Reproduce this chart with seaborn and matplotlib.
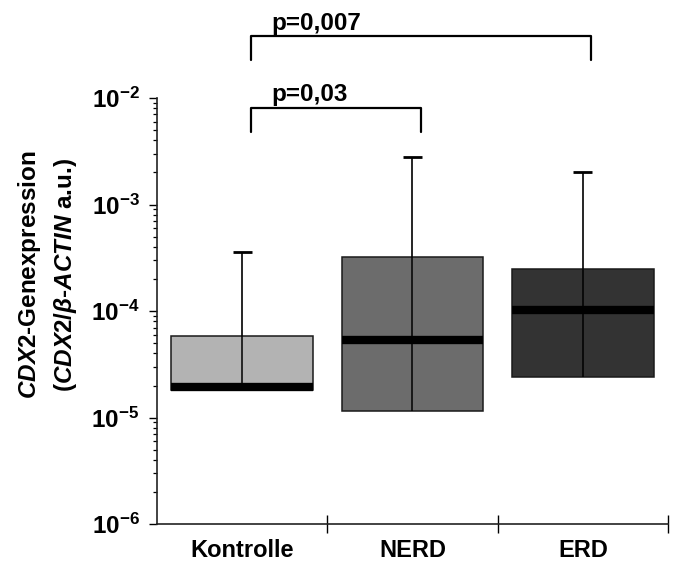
import numpy as np
import pandas as pd
import seaborn as sns
import matplotlib.pyplot as plt
from matplotlib.ticker import LogLocator, NullFormatter

# Group names and box statistics (log scale)
categories = ["Kontrolle", "NERD", "ERD"]
q1 = [1.8e-5, 1.16e-5, 2.4e-5]
median = [1.95e-5, 5.4e-5, 1.03e-4]
q3 = [5.8e-5, 3.2e-4, 2.5e-4]
upper = [3.6e-4, 2.8e-3, 2.0e-3]
box_colors = ["#b3b3b3", "#6c6c6c", "#333333"]

# significance brackets: (group a, group b, label, bar height, leg bottom, text height)
brackets = [
    (0, 1, "p=0,03", 8.1e-3, 4.8e-3, 9.3e-3),
    (0, 2, "p=0,007", 3.8e-2, 2.27e-2, 4.3e-2),
]

# five values per group reproduce min = Q1, Q1, median, Q3, max exactly
rows = []
for name, a, m, b, hi in zip(categories, q1, median, q3, upper):
    for v in [a, a, m, b, hi]:
        rows.append({"group": name, "value": v})
df = pd.DataFrame(rows)

sns.set_style("ticks")
plt.rcParams["font.family"] = ["Liberation Sans", "DejaVu Sans"]
plt.rcParams["font.weight"] = "bold"
plt.rcParams["text.color"] = "black"
plt.rcParams["axes.labelcolor"] = "black"
plt.rcParams["xtick.color"] = "black"
plt.rcParams["ytick.color"] = "black"
plt.rcParams["mathtext.fontset"] = "custom"
plt.rcParams["mathtext.rm"] = "Liberation Sans:bold"
plt.rcParams["mathtext.bf"] = "Liberation Sans:bold"
plt.rcParams["mathtext.it"] = "Liberation Sans:italic:bold"

fig, ax = plt.subplots(figsize=(6.88, 5.63), dpi=100)
fig.subplots_adjust(left=0.228, right=0.971, bottom=0.069, top=0.826)

sns.boxplot(data=df, x="group", y="value", hue="group", order=categories,
            hue_order=categories, palette=box_colors, saturation=1,
            log_scale=True, width=0.83, whis=(0, 100), showcaps=False,
            showfliers=False, linewidth=1.1, linecolor="#1a1a1a",
            medianprops=dict(color="black", linewidth=6),
            whiskerprops=dict(color="black", linewidth=1.2),
            legend=False, ax=ax)

pos = np.arange(len(categories))
# line through the box and the top caps
ax.vlines(pos, q1, q3, color="black", linewidth=1.1, zorder=4)
ax.hlines(upper, pos - 0.056, pos + 0.056, color="black", linewidth=2, zorder=4)

ax.set_ylim(1e-6, 1e-2)
ax.set_xlim(-0.5, 2.5)
ax.set_xlabel("")
ax.set_ylabel("$\\mathit{CDX2}$-Genexpression\n($\\mathit{CDX2/β}$-$\\mathit{ACTIN}$ a.u.)",
              fontsize=17.5, fontweight="bold", linespacing=1.45, va="center")
ax.yaxis.set_label_coords(-0.213, 0.585)

ax.yaxis.set_major_locator(LogLocator(base=10, numticks=10))
ax.yaxis.set_minor_locator(LogLocator(base=10, subs=np.arange(2, 10), numticks=20))
ax.yaxis.set_minor_formatter(NullFormatter())
ax.tick_params(axis="y", which="major", length=5.5, width=1, labelsize=17.5, pad=7)
ax.tick_params(axis="y", which="minor", length=3, width=0.9)

ax.set_xticks([0.5, 1.5, 2.5])
ax.set_xticklabels([])
ax.set_xticks(pos, minor=True)
ax.set_xticklabels(categories, minor=True, fontsize=17, fontweight="bold")
ax.tick_params(axis="x", which="major", direction="inout", length=13, width=1)
ax.tick_params(axis="x", which="minor", length=0, pad=11)

sns.despine(ax=ax)
for side in ["left", "bottom"]:
    ax.spines[side].set_color("#222222")
    ax.spines[side].set_linewidth(1.2)

for a, b, label, top, leg, ty in brackets:
    xa, xb = a + 0.05, b + 0.05
    ax.plot([xa, xa, xb, xb], [leg, top, top, leg], color="black",
            linewidth=1.6, clip_on=False)
    ax.text(xa + 0.12, ty, label, fontsize=17.5, fontweight="bold",
            ha="left", va="baseline")

plt.savefig("out.png", dpi=100)
